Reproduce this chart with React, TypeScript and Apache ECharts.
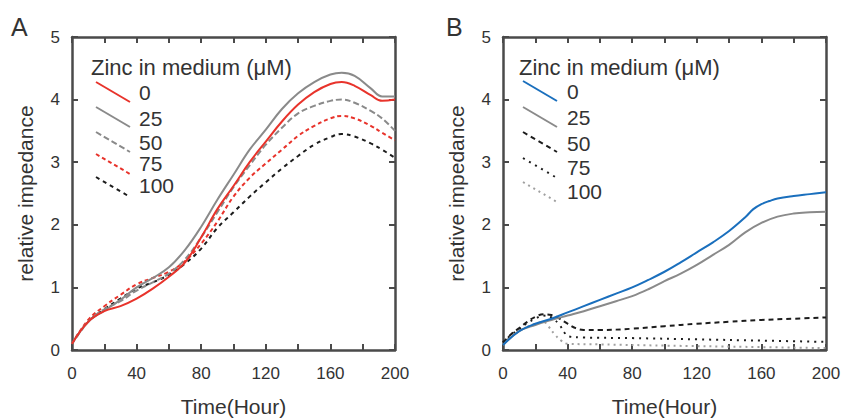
import React, { useEffect, useRef } from 'react';
import * as echarts from 'echarts';

// ---------- data ----------
const zincLevels = ['0', '25', '50', '75', '100'];
const xTicks = [0, 40, 80, 120, 160, 200];
const yTicks = [0, 1, 2, 3, 4, 5];

// Panel A
const hoursA = [0, 10, 20, 30, 40, 50, 60, 70, 80, 90, 100, 110, 120, 130, 140, 150, 160, 167, 175, 185, 192, 200];
const a0 = [0.1, 0.45, 0.62, 0.7, 0.82, 0.98, 1.17, 1.4, 1.8, 2.25, 2.62, 3.0, 3.33, 3.65, 3.92, 4.12, 4.25, 4.28, 4.22, 4.07, 3.98, 4.0];
const a25 = [0.1, 0.45, 0.63, 0.8, 1.0, 1.15, 1.32, 1.6, 1.97, 2.4, 2.8, 3.2, 3.52, 3.85, 4.1, 4.28, 4.4, 4.43, 4.38, 4.18, 4.05, 4.05];
const a50 = [0.1, 0.45, 0.65, 0.78, 0.95, 1.08, 1.22, 1.45, 1.8, 2.2, 2.6, 2.95, 3.28, 3.55, 3.78, 3.9, 3.98, 4.0, 3.95, 3.82, 3.7, 3.5];
const a75 = [0.1, 0.48, 0.7, 0.88, 1.05, 1.15, 1.25, 1.42, 1.7, 2.05, 2.45, 2.75, 2.98, 3.2, 3.42, 3.58, 3.7, 3.74, 3.7, 3.58, 3.47, 3.35];
const a100 = [0.1, 0.45, 0.65, 0.82, 0.98, 1.08, 1.2, 1.38, 1.62, 1.95, 2.2, 2.45, 2.68, 2.9, 3.1, 3.28, 3.4, 3.45, 3.41, 3.3, 3.2, 3.07];

// Panel B
const hoursB0 = [0, 10, 20, 30, 40, 50, 60, 70, 80, 90, 100, 110, 120, 130, 140, 150, 155, 160, 165, 170, 180, 190, 200];
const b0 = [0.08, 0.3, 0.42, 0.5, 0.6, 0.7, 0.8, 0.9, 1.0, 1.12, 1.25, 1.4, 1.56, 1.72, 1.9, 2.12, 2.25, 2.33, 2.38, 2.42, 2.46, 2.49, 2.52];
const hoursB25 = [0, 10, 20, 30, 40, 50, 60, 70, 80, 90, 100, 110, 120, 130, 140, 150, 160, 170, 180, 190, 200];
const b25 = [0.08, 0.3, 0.4, 0.48, 0.55, 0.62, 0.7, 0.78, 0.86, 0.97, 1.1, 1.22, 1.36, 1.52, 1.68, 1.88, 2.03, 2.13, 2.18, 2.2, 2.21];
const hoursB50 = [0, 5, 10, 15, 20, 25, 30, 35, 40, 45, 50, 60, 80, 100, 120, 140, 160, 180, 200];
const b50 = [0.12, 0.25, 0.35, 0.45, 0.53, 0.57, 0.56, 0.5, 0.42, 0.35, 0.32, 0.32, 0.34, 0.38, 0.42, 0.45, 0.48, 0.5, 0.52];
const hoursB75 = [0, 5, 10, 15, 20, 25, 30, 35, 38, 40, 50, 80, 120, 160, 200];
const b75 = [0.12, 0.24, 0.33, 0.43, 0.5, 0.55, 0.52, 0.4, 0.28, 0.22, 0.2, 0.19, 0.17, 0.15, 0.13];
const hoursB100 = [0, 5, 10, 15, 20, 25, 28, 32, 36, 40, 60, 100, 150, 200];
const b100 = [0.1, 0.22, 0.3, 0.37, 0.42, 0.45, 0.38, 0.25, 0.15, 0.1, 0.09, 0.07, 0.05, 0.03];

// ---------- styles ----------
const FONT = 'Liberation Sans, Arial, sans-serif';
const AXIS_COLOR = '#4a4a4a';
const TEXT_COLOR = '#333333';
const RED = '#e8332b';
const GRAY = '#8a8a8a';
const BLACK = '#1c1c1c';
const BLUE = '#1a6fbd';
const LGRAY = '#a0a0a0';

const styleA = [
  { color: RED, type: 'solid' as any },
  { color: GRAY, type: 'solid' as any },
  { color: GRAY, type: [6, 3] as any },
  { color: RED, type: [4, 3] as any },
  { color: BLACK, type: [4, 4] as any },
];
const styleB = [
  { color: BLUE, type: 'solid' as any },
  { color: GRAY, type: 'solid' as any },
  { color: BLACK, type: [5, 4] as any },
  { color: BLACK, type: [2, 5] as any },
  { color: LGRAY, type: [2, 4] as any },
];

const zip = (xs: number[], ys: number[]) => xs.map((x, i) => [x, ys[i]]);

export default function App() {
  const ref = useRef<HTMLDivElement>(null);
  useEffect(() => {
    document.body.style.margin = '0';
    const chart = echarts.init(ref.current!, undefined, { renderer: 'svg' });

    const grids = [
      { left: 72, top: 37, width: 323, height: 313, outerBoundsMode: 'none', containLabel: false },
      { left: 503, top: 37, width: 323, height: 313, outerBoundsMode: 'none', containLabel: false },
    ];

    const baseX = (gi: number, pos: 'bottom' | 'top') => ({
      type: 'value',
      gridIndex: gi,
      position: pos,
      min: 0,
      max: 200,
      interval: 20,
      name: pos === 'bottom' ? 'Time(Hour)' : '',
      nameLocation: 'middle',
      nameGap: 46,
      nameMoveOverlap: false,
      nameTextStyle: { fontSize: 21, color: TEXT_COLOR, fontFamily: FONT },
      axisLine: { show: true, onZero: false, lineStyle: { color: AXIS_COLOR, width: 2.5 } },
      axisTick: { show: true, inside: true, length: 6, lineStyle: { color: AXIS_COLOR, width: 2 } },
      axisLabel: {
        show: pos === 'bottom',
        fontSize: 17,
        color: TEXT_COLOR,
        fontFamily: FONT,
        margin: 15,
        formatter: (v: number) => (xTicks.includes(v) ? String(v) : ''),
      },
      splitLine: { show: false },
    });
    const baseY = (gi: number, pos: 'left' | 'right') => ({
      type: 'value',
      gridIndex: gi,
      position: pos,
      min: 0,
      max: 5,
      interval: 1,
      name: pos === 'left' ? 'relative impedance' : '',
      nameLocation: 'middle',
      nameRotate: 90,
      nameGap: 36,
      nameMoveOverlap: false,
      nameTextStyle: { fontSize: 21, color: TEXT_COLOR, fontFamily: FONT },
      axisLine: { show: true, onZero: false, lineStyle: { color: AXIS_COLOR, width: 2.5 } },
      axisTick: { show: true, inside: true, length: 6, lineStyle: { color: AXIS_COLOR, width: 2 } },
      axisLabel: {
        show: pos === 'left',
        fontSize: 17,
        color: TEXT_COLOR,
        fontFamily: FONT,
        margin: 12,
        formatter: (v: number) => (yTicks.includes(v) ? String(v) : ''),
      },
      splitLine: { show: false },
    });

    const dataA = [zip(hoursA, a0), zip(hoursA, a25), zip(hoursA, a50), zip(hoursA, a75), zip(hoursA, a100)];
    const dataB = [zip(hoursB0, b0), zip(hoursB25, b25), zip(hoursB50, b50), zip(hoursB75, b75), zip(hoursB100, b100)];

    const mk = (data: number[][], st: any, axisIdx: number, name: string, z: number) => ({
      type: 'line',
      name,
      data,
      xAxisIndex: axisIdx,
      yAxisIndex: axisIdx,
      showSymbol: false,
      symbol: 'none',
      smooth: 0.4,
      z,
      lineStyle: { color: st.color, width: 2, type: st.type },
      itemStyle: { color: st.color },
    });

    const series: any[] = [];
    [4, 3, 2, 1, 0].forEach((i) => series.push(mk(dataA[i], styleA[i], 0, 'A ' + zincLevels[i], 2 + (4 - i))));
    [4, 3, 2, 1, 0].forEach((i) => series.push(mk(dataB[i], styleB[i], 2, 'B ' + zincLevels[i], 2 + (4 - i))));

    // legend graphics
    const legendA = { x0: 96, x1: 130, tx: 139, titleX: 91, titleY: 67, lineY: [82, 107, 132, 154, 177], textY: [92, 118, 142, 163, 185] };
    const legendB = { x0: 523, x1: 557, tx: 567, titleX: 519, titleY: 67, lineY: [81, 107, 132, 158, 182], textY: [91, 117, 143, 167, 191] };

    const legendGraphics = (lg: any, styles: any[]) => {
      const els: any[] = [
        {
          type: 'text',
          x: lg.titleX,
          y: lg.titleY,
          style: { text: 'Zinc in medium (μM)', fontSize: 22, fill: TEXT_COLOR, fontFamily: FONT, verticalAlign: 'middle', align: 'left' },
        },
      ];
      styles.forEach((st, i) => {
        els.push({
          type: 'line',
          shape: { x1: lg.x0, y1: lg.lineY[i], x2: lg.x1, y2: lg.lineY[i] + 20 },
          style: { stroke: st.color, lineWidth: 2, lineDash: st.type === 'solid' ? null : st.type },
        });
        els.push({
          type: 'text',
          x: lg.tx,
          y: lg.textY[i],
          style: { text: zincLevels[i], fontSize: 21, fill: TEXT_COLOR, fontFamily: FONT, verticalAlign: 'middle', align: 'left' },
        });
      });
      return els;
    };

    chart.setOption({
      animation: false,
      backgroundColor: '#ffffff',
      grid: grids,
      xAxis: [baseX(0, 'bottom'), baseX(0, 'top'), baseX(1, 'bottom'), baseX(1, 'top')].map((a, i) => ({ ...a, gridIndex: i < 2 ? 0 : 1 })),
      yAxis: [baseY(0, 'left'), baseY(0, 'right'), baseY(1, 'left'), baseY(1, 'right')].map((a, i) => ({ ...a, gridIndex: i < 2 ? 0 : 1 })),
      series,
      graphic: [
        { type: 'text', x: 11, y: 27, style: { text: 'A', fontSize: 25, fill: TEXT_COLOR, fontFamily: FONT, verticalAlign: 'middle' } },
        { type: 'text', x: 446, y: 27, style: { text: 'B', fontSize: 25, fill: TEXT_COLOR, fontFamily: FONT, verticalAlign: 'middle' } },
        ...legendGraphics(legendA, styleA),
        ...legendGraphics(legendB, styleB),
      ],
    });
    return () => chart.dispose();
  }, []);
  return <div ref={ref} style={{ width: 842, height: 419 }} />;
}
